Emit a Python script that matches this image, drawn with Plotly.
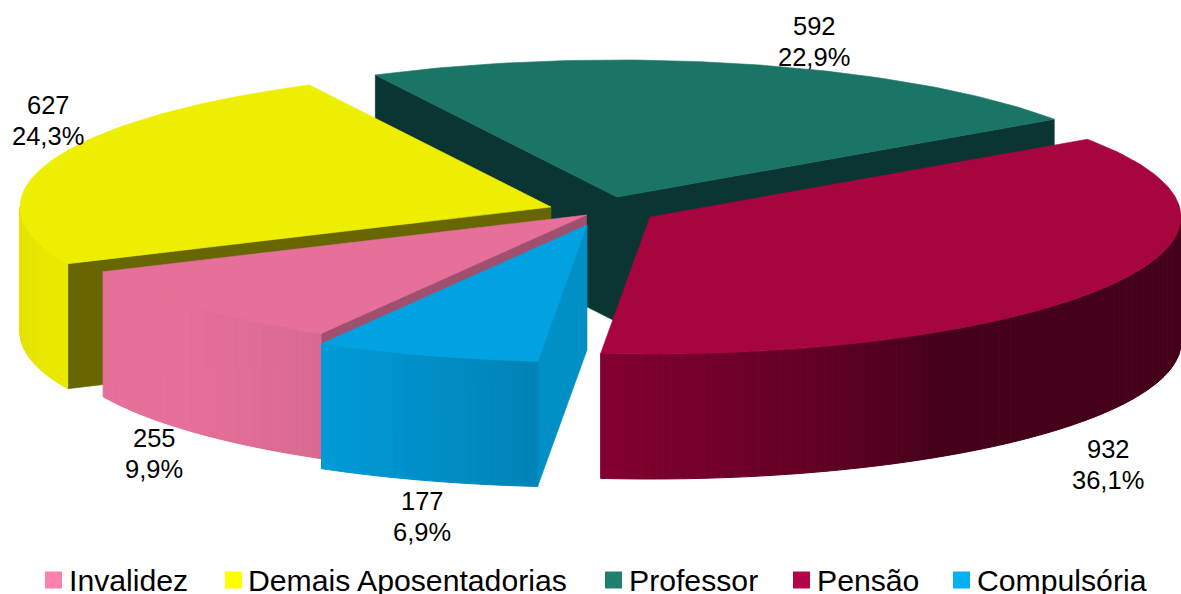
import math
import plotly.graph_objects as go

# ---- data ----
categories = ["Invalidez", "Demais Aposentadorias", "Professor", "Pensão", "Compulsória"]
values = [255, 627, 592, 932, 177]

# ---- styles ----
top_colors = ["#E6709A", "#EEEE00", "#1B7566", "#A6053F", "#00A2E2"]
legend_colors = ["#FF80AB", "#FFFF00", "#1F8070", "#B3044A", "#00B0F0"]
radial_wall_colors = ["#A0506F", "#686600", "#0A3532", "#5A0020", "#0090C6"]
outer_shade = [
    [(0.0, "#D86A92"), (0.55, "#E6709A"), (1.0, "#E6709A")],
    [(0.0, "#EAEA00"), (1.0, "#E2E200")],
    [(0.0, "#0A3532"), (1.0, "#0A3532")],
    [(0.0, "#45001A"), (0.59, "#45001A"), (0.77, "#640025"), (1.0, "#830030")],
    [(0.0, "#0083B6"), (1.0, "#009BD8")],
]
centers = [(586.5, 215), (551, 207), (617, 197), (650, 217), (587, 225)]
draw_order = [2, 1, 0, 3, 4]
label_pos = [(154, 453), (48, 120), (814, 41), (1108, 464), (422, 516)]
LABEL_LINE_GAP = 31
legend_x = [45, 225, 605, 793, 953]
legend_text_x = [69, 248, 629, 817, 977]
LEGEND_Y = 580
FIRST_ANGLE = 210.0
RX, RY, DEPTH = 531, 137, 125
LABEL_FONT = "Liberation Sans"
LEGEND_FONT = "Liberation Sans"
W, H = 1181, 594

total = sum(values)
spans = []
a = FIRST_ANGLE
for v in values:
    spans.append((a, a + v / total * 360))
    a += v / total * 360


def pt(c, ang, dz=0):
    r = math.radians(ang)
    return c[0] + RX * math.sin(r), c[1] - RY * math.cos(r) + dz


def arc(c, a0, a1, dz=0, step=1.0):
    n = max(2, int(abs(a1 - a0) / step))
    return [pt(c, a0 + (a1 - a0) * i / n, dz) for i in range(n + 1)]


def hex2rgb(h):
    return [int(h[i:i + 2], 16) for i in (1, 3, 5)]


def shade(stops, t):
    for (t0, c0), (t1, c1) in zip(stops, stops[1:]):
        if t <= t1:
            f = 0 if t1 == t0 else (t - t0) / (t1 - t0)
            rgb = [round(p + (q - p) * f) for p, q in zip(hex2rgb(c0), hex2rgb(c1))]
            return "rgb(%d,%d,%d)" % tuple(rgb)
    return stops[-1][1]


fig = go.Figure()


def poly(points, color, width=0.6):
    xs = [p[0] for p in points] + [points[0][0]]
    ys = [p[1] for p in points] + [points[0][1]]
    fig.add_trace(go.Scatter(x=xs, y=ys, mode="lines", fill="toself", fillcolor=color,
                             line=dict(color=color, width=width), hoverinfo="skip",
                             showlegend=False))


def in_front(a):
    return math.cos(math.radians(a)) < 0


for i in draw_order:
    c = centers[i]
    a0, a1 = spans[i]
    # visible radial walls
    for ang, normal in ((a0, a0 - 90), (a1, a1 + 90)):
        if in_front(normal):
            p = pt(c, ang)
            poly([c, p, (p[0], p[1] + DEPTH), (c[0], c[1] + DEPTH)], radial_wall_colors[i])
    # visible outer wall, in shaded strips
    vis0 = a0 % 360
    vis1 = vis0 + (a1 - a0)
    lo, hi = max(vis0, 90), min(vis1, 270)
    if hi > lo:
        n = max(2, int((hi - lo) / 0.75))
        for k in range(n):
            s0 = lo + (hi - lo) * k / n
            s1 = lo + (hi - lo) * (k + 1) / n
            top = arc(c, s0, s1, 0, 0.5)
            bot = arc(c, s1, s0, DEPTH, 0.5)
            poly(top + bot, shade(outer_shade[i], (k + 0.5) / n), 1)
    # top face
    poly([c] + arc(c, a0, a1), top_colors[i])

# legend swatches
for name, col, x in zip(categories, legend_colors, legend_x):
    fig.add_trace(go.Scatter(x=[x + 8.5], y=[LEGEND_Y], mode="markers", name=name,
                             marker=dict(symbol="square", size=17, color=col),
                             hoverinfo="name", showlegend=False))

annotations = []
for name, x in zip(categories, legend_text_x):
    annotations.append(dict(x=x, y=LEGEND_Y, xref="x", yref="y", text=name, showarrow=False,
                            xanchor="left", yanchor="middle", xshift=-2,
                            font=dict(family=LEGEND_FONT, size=30.2, color="#000000")))
for v, (x, y) in zip(values, label_pos):
    pct = ("%.1f%%" % (v / total * 100)).replace(".", ",")
    for txt, yy in ((str(v), y - LABEL_LINE_GAP / 2), (pct, y + LABEL_LINE_GAP / 2)):
        annotations.append(dict(x=x, y=yy, xref="x", yref="y", text=txt,
                                showarrow=False, xanchor="center", yanchor="middle",
                                font=dict(family=LABEL_FONT, size=25.5, color="#000000")))

fig.update_layout(
    width=W, height=H, margin=dict(l=0, r=0, t=0, b=0),
    paper_bgcolor="white", plot_bgcolor="white", showlegend=False,
    xaxis=dict(range=[0, W], visible=False, fixedrange=True),
    yaxis=dict(range=[H, 0], visible=False, fixedrange=True),
    annotations=annotations,
)
fig.write_html("out.html", config={"displayModeBar": False},
               post_script="document.body.style.margin='0';")
